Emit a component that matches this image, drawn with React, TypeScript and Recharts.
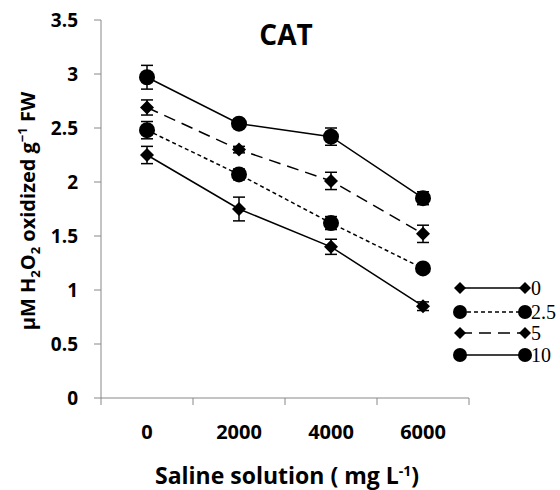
import { LineChart, Line, XAxis, YAxis, ErrorBar } from 'recharts'

const salinity = ['0', '2000', '4000', '6000']
const yTicks = [0, 0.5, 1, 1.5, 2, 2.5, 3, 3.5]

const s0 = [2.25, 1.75, 1.4, 0.85]
const e0 = [0.08, 0.11, 0.07, 0.04]
const s25 = [2.48, 2.07, 1.62, 1.2]
const e25 = [0.08, 0.05, 0.06, 0.03]
const s5 = [2.69, 2.3, 2.01, 1.52]
const e5 = [0.07, 0.03, 0.08, 0.08]
const s10 = [2.97, 2.54, 2.42, 1.85]
const e10 = [0.11, 0.04, 0.08, 0.06]

const data = salinity.map((label, i) => ({
  idx: i,
  label,
  s0: s0[i], e0: e0[i],
  s25: s25[i], e25: e25[i],
  s5: s5[i], e5: e5[i],
  s10: s10[i], e10: e10[i],
}))

const FONT = '"Open Sans", Lato, sans-serif'

const Diamond = ({ cx, cy, r = 7 }: { cx: number; cy: number; r?: number }) => (
  <path d={`M${cx},${cy - r}L${cx + r},${cy}L${cx},${cy + r}L${cx - r},${cy}Z`} fill="#000" />
)

const Dot = ({ cx, cy, r = 8 }: { cx: number; cy: number; r?: number }) => (
  <circle cx={cx} cy={cy} r={r} fill="#000" />
)

const diamondDot = (p: any) => <Diamond key={`d${p.index}`} cx={p.cx} cy={p.cy} />
const circleDot = (p: any) => <Dot key={`c${p.index}`} cx={p.cx} cy={p.cy} />

const XTick = (props: any) => {
  const { x, y, payload } = props
  const v = payload.value
  if (Math.abs(v - Math.round(v)) > 0.1) {
    return <line x1={x} x2={x} y1={y} y2={y + 7} stroke="#888" />
  }
  return (
    <text x={x} y={y + 41} textAnchor="middle" fontFamily={FONT} fontWeight="bold" fontSize={20} fill="#000">
      {salinity[Math.round(v)]}
    </text>
  )
}

const legendItems = [
  { name: '0', shape: 'diamond', dash: undefined },
  { name: '2.5', shape: 'circle', dash: '4 3' },
  { name: '5', shape: 'diamond', dash: '12 7' },
  { name: '10', shape: 'circle', dash: undefined },
]
const legendY = [288, 312, 333, 355]

export default function App() {
  return (
    <div style={{ position: 'absolute', left: 0, top: 0, width: 560, height: 490, background: '#fff' }}>
      <LineChart width={560} height={490} data={data} margin={{ top: 20, right: 91, bottom: 0, left: 0 }}>
        <XAxis
          dataKey="idx"
          type="number"
          domain={[-0.5, 3.5]}
          ticks={[-0.5, 0, 0.5, 1, 1.5, 2, 2.5, 3, 3.5]}
          tick={<XTick />}
          tickLine={false}
          tickSize={0}
          tickMargin={0}
          axisLine={{ stroke: '#888' }}
          height={92}
          interval={0}
        />
        <YAxis
          domain={[0, 3.5]}
          ticks={yTicks}
          width={101}
          tickSize={7}
          tickMargin={16}
          tickLine={{ stroke: '#888' }}
          axisLine={{ stroke: '#888' }}
          tick={{ fill: '#000', fontSize: 19, fontWeight: 'bold', fontFamily: FONT }}
          interval={0}
        />
        <Line dataKey="s0" stroke="#000" strokeWidth={1.5} dot={diamondDot} isAnimationActive={false}>
          <ErrorBar dataKey="e0" width={6} stroke="#000" strokeWidth={1.5} />
        </Line>
        <Line dataKey="s25" stroke="#000" strokeWidth={1.5} strokeDasharray="4 3" dot={circleDot} isAnimationActive={false}>
          <ErrorBar dataKey="e25" width={6} stroke="#000" strokeWidth={1.5} />
        </Line>
        <Line dataKey="s5" stroke="#000" strokeWidth={1.5} strokeDasharray="12 7" dot={diamondDot} isAnimationActive={false}>
          <ErrorBar dataKey="e5" width={6} stroke="#000" strokeWidth={1.5} />
        </Line>
        <Line dataKey="s10" stroke="#000" strokeWidth={1.5} dot={circleDot} isAnimationActive={false}>
          <ErrorBar dataKey="e10" width={6} stroke="#000" strokeWidth={1.5} />
        </Line>
      </LineChart>

      <svg width={560} height={490} style={{ position: 'absolute', left: 0, top: 0, pointerEvents: 'none' }}>
        <text x={286} y={45} textAnchor="middle" fontFamily={FONT} fontWeight="bold" fontSize={28}>CAT</text>
        <text x={287} y={484} textAnchor="middle" fontFamily={FONT} fontWeight="bold" fontSize={23}>
          Saline solution ( mg L<tspan dy={-8} fontSize={14}>-1</tspan><tspan dy={8}>)</tspan>
        </text>
        <text
          transform="translate(35,211) rotate(-90)"
          textAnchor="middle"
          fontFamily={FONT}
          fontWeight="bold"
          fontSize={20}
        >
          µM H<tspan dy={5} fontSize={13}>2</tspan><tspan dy={-5}>O</tspan><tspan dy={5} fontSize={13}>2</tspan>
          <tspan dy={-5}> oxidized g</tspan><tspan dy={-8} fontSize={13}>−1</tspan><tspan dy={8}> FW</tspan>
        </text>
        {legendItems.map((it, i) => {
          const y = legendY[i]
          return (
            <g key={it.name}>
              <line x1={460} x2={525} y1={y} y2={y} stroke="#000" strokeWidth={1.5} strokeDasharray={it.dash} />
              {it.shape === 'diamond' ? (
                <>
                  <Diamond cx={460} cy={y} r={6} />
                  <Diamond cx={525} cy={y} r={6} />
                </>
              ) : (
                <>
                  <Dot cx={460} cy={y} r={7} />
                  <Dot cx={525} cy={y} r={7} />
                </>
              )}
              <text x={531} y={y + 7} fontFamily='"Liberation Serif", serif' fontSize={20}>{it.name}</text>
            </g>
          )
        })}
      </svg>
    </div>
  )
}
